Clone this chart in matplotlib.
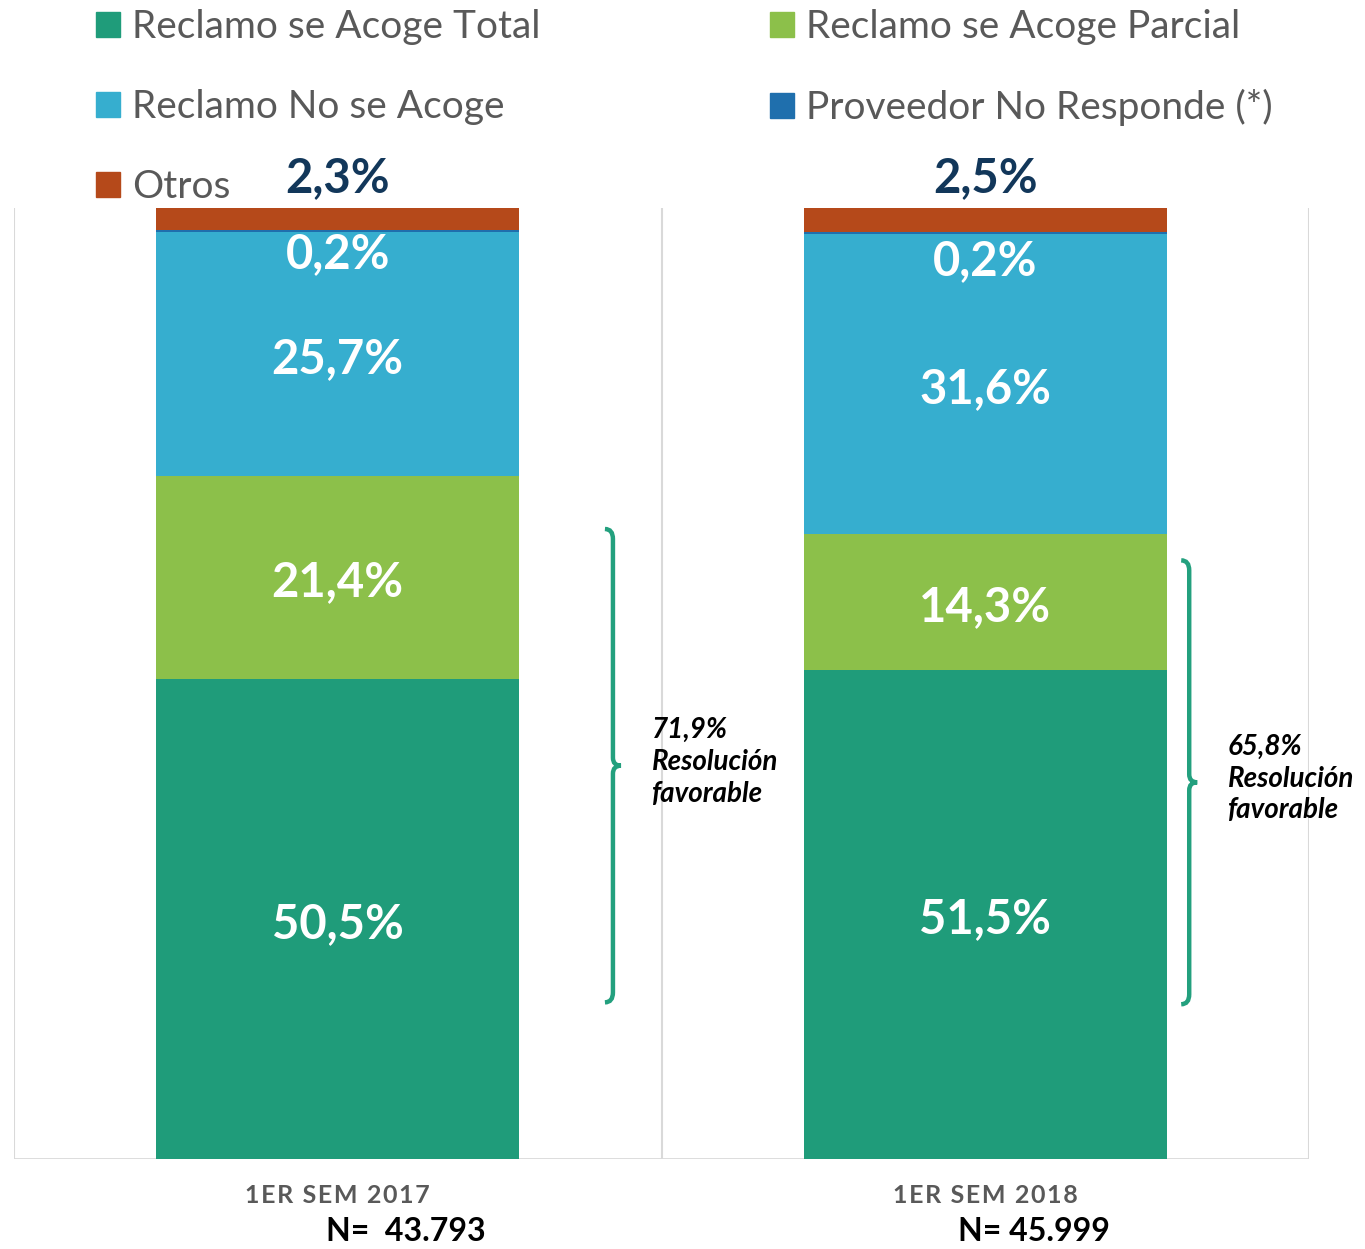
import matplotlib.pyplot as plt
from matplotlib.patches import Patch
from matplotlib.path import Path
from matplotlib.patches import PathPatch
from matplotlib.transforms import IdentityTransform

plt.rcParams['font.family'] = ['Lato', 'DejaVu Sans']

# datos
periodos = ['1ER SEM 2017', '1ER SEM 2018']
muestras = ['N=  43.793', 'N= 45.999']
series = ['Reclamo se Acoge Total', 'Reclamo se Acoge Parcial', 'Reclamo No se Acoge',
          'Proveedor No Responde (*)', 'Otros']
acoge_total = [50.5, 51.5]
acoge_parcial = [21.4, 14.3]
no_acoge = [25.7, 31.6]
no_responde = [0.2, 0.2]
otros = [2.3, 2.5]
favorable = ['71,9%', '65,8%']
colores = ['#1f9c7a', '#8cc04a', '#36aecf', '#1f6fad', '#b5491a']

# llaves: (x, y inicio, y fin) en coordenadas de datos
llaves = [(0.425, 16.7, 66.1), (1.315, 16.5, 62.8)]
desplaz_n = [49, 35]  # desplazamiento horizontal del texto N (pt)

fig = plt.figure(figsize=(13.65, 12.49), dpi=100)
ax = fig.add_axes([14 / 1365, 1 - 1159 / 1249, 1295 / 1365, 951 / 1249])
ax.set_xlim(-0.5, 1.5)
ax.set_ylim(0, 100.1)
for s in ax.spines.values():
    s.set_visible(False)
ax.set_xticks([])
ax.set_yticks([])

for xv in [-0.5, 0.5, 1.5]:
    ax.axvline(xv, color='#d9d9d9', lw=1.5, zorder=0)
ax.axhline(0, color='#d9d9d9', lw=2, zorder=0)

x = range(len(periodos))
valores = [acoge_total, acoge_parcial, no_acoge, no_responde, otros]
base = [0, 0]
for vals, col, nom in zip(valores, colores, series):
    ax.bar(x, vals, bottom=base, width=0.56, color=col, label=nom, zorder=2)
    for i, v in enumerate(vals):
        cy = base[i] + v / 2
        txt = f'{v:.1f}%'.replace('.', ',')
        if nom == 'Otros':
            ax.annotate(txt, (i, base[i] + v), xytext=(0, 6), textcoords='offset points',
                        ha='center', va='bottom', fontsize=34, fontweight='bold', color='#12375a')
        elif nom.startswith('Proveedor'):
            ax.annotate(txt, (i, cy), xytext=(0, -17 - 3.5 * i), textcoords='offset points',
                        ha='center', va='center', fontsize=34, fontweight='bold', color='white')
        else:
            ax.annotate(txt, (i, cy), xytext=(0, -3.5), textcoords='offset points',
                        ha='center', va='center', fontsize=34, fontweight='bold',
                        color='white', zorder=3)
    base = [a + b for a, b in zip(base, vals)]

# etiquetas de categoria
for i, (p, n) in enumerate(zip(periodos, muestras)):
    ax.annotate('\u200a'.join(p), (i, 0), xytext=(0, -26), textcoords='offset points',
                ha='center', va='center', fontsize=18, fontweight='bold', color='#595959')
    ax.annotate(n, (i, 0), xytext=(desplaz_n[i], -52), textcoords='offset points', ha='center',
                va='center', fontsize=23, fontweight='bold', color='black')

# llaves y texto
fig.canvas.draw()
for (lx, y0, y1), f in zip(llaves, favorable):
    px, py0 = ax.transData.transform((lx, y0))
    _, py1 = ax.transData.transform((lx, y1))
    ym = (py0 + py1) / 2
    h, d = 8, 8
    verts = [(px - h, py1 + 2), (px, py1 + 2), (px, py1 - d),
             (px, ym + d),
             (px, ym), (px + h, ym),
             (px, ym), (px, ym - d),
             (px, py0 + d),
             (px, py0 - 2), (px - h, py0 - 2)]
    codes = [Path.MOVETO, Path.CURVE3, Path.CURVE3,
             Path.LINETO,
             Path.CURVE3, Path.CURVE3,
             Path.CURVE3, Path.CURVE3,
             Path.LINETO,
             Path.CURVE3, Path.CURVE3]
    fig.add_artist(PathPatch(Path(verts, codes), transform=IdentityTransform(),
                             fill=False, edgecolor='#23a07e', lw=3.2))
    ax.text(lx + 0.06, (y0 + y1) / 2 + 0.4, f + '\nResolución\nfavorable', ha='left', va='center',
            fontsize=20, fontweight='bold', style='italic', color='black', linespacing=1.28)

# leyenda
orden = [0, 2, 4, 1, 3]
handles = [Patch(color=colores[k]) for k in orden]
fig.legend(handles, [series[k] for k in orden], ncol=2, loc='upper left',
           bbox_to_anchor=(96 / 1365, 1 - 9 / 1249), frameon=False, fontsize=28,
           handlelength=0.62, handleheight=0.62, handletextpad=0.3,
           labelspacing=1.13, columnspacing=5.9, borderpad=0, borderaxespad=0,
           labelcolor='#595959')

fig.savefig('out.png', dpi=100)
